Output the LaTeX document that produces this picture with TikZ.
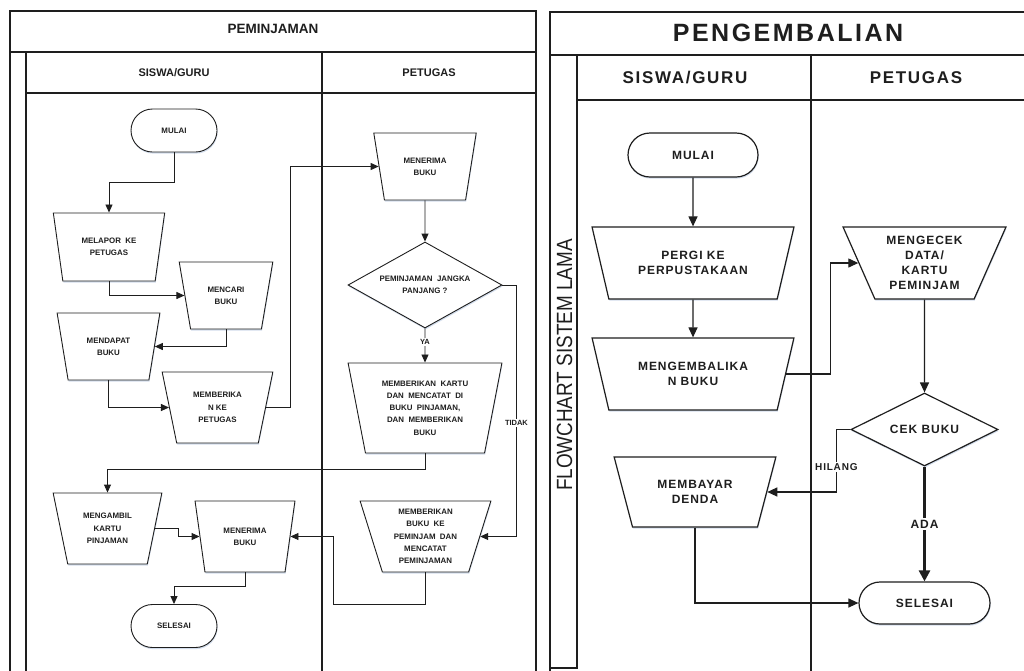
\documentclass[tikz,border=0pt]{standalone}
\usepackage{fontspec}
\setmainfont{Liberation Sans}
\newfontfamily\widefont[LetterSpace=8]{Liberation Sans}
\newfontfamily\widerfont[LetterSpace=10]{Liberation Sans}
\usetikzlibrary{arrows.meta,shapes.geometric,shapes.misc,shadows}

\definecolor{ink}{HTML}{1E1E1E}
\definecolor{shade}{HTML}{9DB4D6}

\tikzset{
  frame/.style={draw=ink, line width=1.1pt},
  soft/.style={fill=white, drop shadow={shadow xshift=0.6pt, shadow yshift=-1.6pt, fill=shade, opacity=0.45}},
  % left flowchart (peminjaman)
  ltext/.style={font=\fontsize{7.9}{12.3}\selectfont\bfseries, align=center, text=ink},
  trapL/.style n args={3}{ltext, soft, draw=ink, line width=0.9pt, trapezium,
    trapezium stretches=true, shape border rotate=180, inner sep=1pt,
    minimum width=#1, minimum height=#2,
    trapezium left angle=#3, trapezium right angle=#3},
  termL/.style={ltext, soft, draw=ink, line width=0.9pt, rounded rectangle,
    minimum width=88, minimum height=43, inner sep=1pt},
  decL/.style={ltext, soft, draw=ink, line width=0.9pt, diamond, aspect=1.79,
    minimum width=154, minimum height=86, inner sep=0pt},
  arrL/.style={draw=ink, line width=0.9pt, -{Triangle[length=8pt,width=7pt]}},
  lblL/.style={font=\fontsize{7.5}{9}\selectfont\bfseries, text=ink, fill=white, inner sep=1.5pt},
  % right flowchart (pengembalian)
  rtext/.style={font=\widefont\fontsize{12}{15}\selectfont\bfseries, align=center, text=ink},
  trapR/.style n args={3}{rtext, soft, draw=ink, line width=1.2pt, trapezium,
    trapezium stretches=true, shape border rotate=180, inner sep=1pt,
    minimum width=#1, minimum height=#2,
    trapezium left angle=#3, trapezium right angle=#3},
  termR/.style={rtext, soft, draw=ink, line width=1.2pt, rounded rectangle,
    minimum width=133, minimum height=43, inner sep=1pt},
  decR/.style={rtext, soft, draw=ink, line width=1.2pt, diamond, aspect=2.0,
    minimum width=147, minimum height=73, inner sep=0pt},
  arrR/.style={draw=ink, line width=1.2pt, -{Triangle[length=10pt,width=9pt]}},
  lblR/.style={font=\widefont\fontsize{10}{12}\selectfont\bfseries, text=ink, fill=white, inner sep=1.5pt},
}

\begin{document}
\begin{tikzpicture}[x=1pt, y=-1pt]
\useasboundingbox (0,0) rectangle (1024,670);
\clip (0,0) rectangle (1024,670);
\fill[white] (0,0) rectangle (1024,670);

% ---------------- PEMINJAMAN: pool and lanes ----------------
\draw[frame] (10,11) rectangle (536,690);
\draw[frame] (10,52) -- (536,52);
\draw[frame] (26,52) -- (26,690);
\draw[frame] (26,93) -- (536,93);
\draw[frame] (322,52) -- (322,690);
\node[font=\fontsize{13.5}{16}\selectfont\bfseries, text=ink] (judulA) at (273,29) {PEMINJAMAN};
\node[font=\fontsize{11}{13}\selectfont\bfseries, text=ink] (lajurA1) at (174,73) {SISWA/GURU};
\node[font=\fontsize{11}{13}\selectfont\bfseries, text=ink] (lajurA2) at (429,73) {PETUGAS};

% ---------------- PEMINJAMAN: steps ----------------
\node[termL] (mulaiL) at (174,130.5) {MULAI};
\node[trapL={112}{68}{73.6}] (melapor) at (109,247) {MELAPOR\ \ KE\\PETUGAS};
\node[trapL={94}{67}{72.6}] (mencari) at (226,295.5) {MENCARI\\BUKU};
\node[trapL={103}{67}{72.6}] (mendapat) at (108.5,346.5) {MENDAPAT\\BUKU};
\node[trapL={111}{71}{74.3}] (memberika) at (217.5,407.5) {MEMBERIKA\\N KE\\PETUGAS};
\node[trapL={103}{67}{73.4}] (terima1) at (425,166.5) {MENERIMA\\BUKU};
\node[decL] (panjang) at (425,285) {PEMINJAMAN\ \ JANGKA\\PANJANG ?};
\node[trapL={154}{90}{77.2}] (kartu) at (425,408)
  {MEMBERIKAN\ \ KARTU\\DAN\ \ MENCATAT\ \ DI\\BUKU\ \ PINJAMAN,\\DAN\ \ MEMBERIKAN\\BUKU};
\node[trapL={131}{71}{73.5}] (serahkan) at (425.5,536.5)
  {MEMBERIKAN\\BUKU\ \ KE\\PEMINJAM\ \ DAN\\MENCATAT\\PEMINJAMAN};
\node[trapL={109}{71}{73.9}] (ambil) at (107.5,528.5) {MENGAMBIL\\KARTU\\PINJAMAN};
\node[trapL={100}{71}{74.3}] (terima2) at (245,536.5) {MENERIMA\\BUKU};
\node[termL] (selesaiL) at (174,626) {SELESAI};
\coordinate (balik) at (333,604);

% ---------------- PEMINJAMAN: flow ----------------
\draw[arrL] (mulaiL.south) -- ++(0,30) -| (melapor.north);
\draw[arrL] (melapor.south) |- (mencari.west);
\draw[arrL] (mencari.south) |- (mendapat.east);
\draw[arrL] (mendapat.south) |- (memberika.west);
\draw[arrL] (memberika.east) -- ++(24,0) |- (terima1.west);
\draw[arrL] (terima1.south) -- (panjang.north);
\draw[arrL] (panjang.south) -- node[lblL, pos=0.4] (ya) {YA} (kartu.north);
\draw[arrL] (panjang.east) -- ++(14,0) |- node[lblL, pos=0.275] (tidak) {TIDAK} (serahkan.east);
\draw[arrL] (kartu.south) -- ++(0,16) -| (ambil.north);
\draw[arrL] (ambil.east) -- ++(23,0) |- (terima2.west);
\draw[arrL] (balik) |- (terima2.east);
\draw[draw=ink, line width=0.9pt] (serahkan.south) |- (balik);
\draw[arrL] (terima2.south) -- ++(0,14) -| (selesaiL.north);

% ---------------- PENGEMBALIAN: pool and lanes ----------------
\draw[frame] (550,12) rectangle (1030,690);
\draw[frame] (550,55) -- (1030,55);
\draw[frame] (577,55) -- (577,668) -- (550,668);
\draw[frame] (577,100) -- (1030,100);
\draw[frame] (811,55) -- (811,690);
\node[font=\widerfont\fontsize{25}{28}\selectfont\bfseries, text=ink] (judulB) at (788,33) {PENGEMBALIAN};
\node[font=\widerfont\fontsize{17}{20}\selectfont\bfseries, text=ink] (lajurB1) at (685,78) {SISWA/GURU};
\node[font=\widerfont\fontsize{17}{20}\selectfont\bfseries, text=ink] (lajurB2) at (916,78) {PETUGAS};
\node[rotate=90, font=\fontsize{22}{24}\selectfont, text=ink] (kolam) at (564.5,365)
  {\scalebox{0.86}[1]{FLOWCHART SISTEM LAMA}};

% ---------------- PENGEMBALIAN: steps ----------------
\node[termR, minimum width=132, minimum height=44] (mulaiR) at (693,155) {MULAI};
\node[trapR={202}{72}{66.4}] (pergi) at (693,263) {PERGI KE\\PERPUSTAKAAN};
\node[trapR={202}{72}{66.4}] (kembali) at (693,374) {MENGEMBALIKA\\N BUKU};
\node[trapR={163}{72}{65.7}] (cekdata) at (924.5,263) {MENGECEK\\DATA/\\KARTU\\PEMINJAM};
\node[decR] (cekbuku) at (924.5,429.5) {CEK BUKU};
\node[trapR={162}{70}{65.8}] (bayar) at (695,492) {MEMBAYAR\\DENDA};
\node[termR, minimum height=42] (selesaiR) at (924.5,603) {SELESAI};

% ---------------- PENGEMBALIAN: flow ----------------
\draw[arrR] (mulaiR.south) -- (pergi.north);
\draw[arrR] (pergi.south) -- (kembali.north);
\draw[arrR] (kembali.east) -- ++(44.5,0) |- (cekdata.west);
\draw[arrR] (cekdata.south) -- (cekbuku.north);
\draw[arrR] (cekbuku.west) -- ++(-14,0) |- node[lblR, pos=0.3] (hilang) {HILANG} (bayar.east);
\draw[draw=ink, line width=2.6pt, -{Triangle[length=11pt,width=11pt]}]
  (cekbuku.south) -- node[lblR, font=\widefont\fontsize{12}{14}\selectfont\bfseries, pos=0.5] (ada) {ADA} (selesaiR.north);
\draw[arrR] (bayar.south) |- (selesaiR.west);
\end{tikzpicture}
\end{document}
